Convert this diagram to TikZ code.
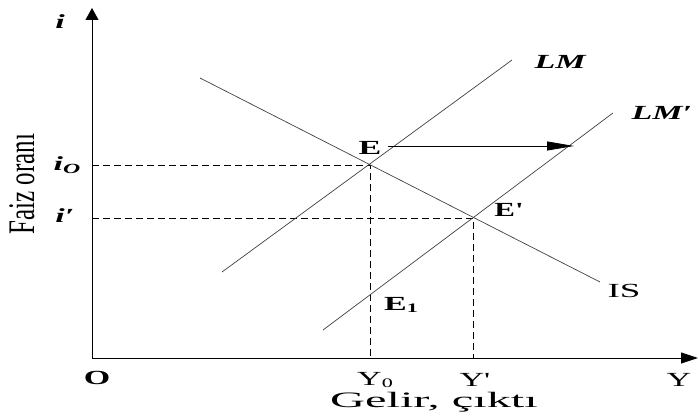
\documentclass[tikz,border=0pt]{standalone}
\usepackage{fontspec}
\setmainfont{Liberation Serif}[Ligatures=TeXOff]
\usetikzlibrary{arrows.meta}
\newcommand{\hstretch}[1]{\scalebox{1.7}[1]{#1}}
\begin{document}
\begin{tikzpicture}[x=1pt,y=-1pt,
  lbl/.style={font=\fontsize{20}{22}\selectfont, inner sep=0pt},
  blbl/.style={font=\fontsize{20}{22}\selectfont\bfseries, inner sep=0pt},
  ilbl/.style={font=\fontsize{20}{22}\selectfont\bfseries\itshape, inner sep=0pt},
  curve/.style={line width=0.7pt, draw=black!75},
  axis/.style={line width=0.9pt},
  guide/.style={line width=0.8pt, dash pattern=on 7pt off 4pt}]
\useasboundingbox (0,0) rectangle (699,419);
% points
\coordinate (O) at (92,358);
\coordinate (ytop) at (92,8);
\coordinate (xend) at (698,358);
\coordinate (E) at (370,165);
\coordinate (Ep) at (473,218);
\coordinate (i0) at (92,165);
\coordinate (ip) at (92,218);
\coordinate (Y0) at (370,358);
\coordinate (Yp) at (473,358);
\coordinate (LMa) at (222,272);
\coordinate (LMb) at (512,60);
\coordinate (LMpa) at (323,330);
\coordinate (LMpb) at (613,113);
\coordinate (ISa) at (200,78);
\coordinate (ISb) at (600,282);
\coordinate (ar1) at (388,146);
\coordinate (ar2) at (574,146);
% axes
\draw[axis,-{Triangle[length=12pt,width=13pt]}] (O) -- (ytop);
\draw[axis,-{Triangle[length=17pt,width=11pt]}] (O) -- (xend);
% guides
\draw[guide] (i0) -- (E) -- (Y0);
\draw[guide] (ip) -- (Ep) -- (Yp);
% curves
\draw[curve] (LMa) -- (LMb);
\draw[curve] (LMpa) -- (LMpb);
\draw[curve] (ISa) -- (ISb);
\draw[line width=0.8pt,-{Triangle[length=27pt,width=9pt]}] (ar1) -- (ar2);
% labels
\node[ilbl] (li) at (60,22) {\hstretch{i}};
\node[ilbl] (li0) at (67,165) {\hstretch{i\raisebox{-0.35ex}{\fontsize{14}{15}\selectfont O}}};
\node[ilbl] (lip) at (65,216) {\hstretch{i′}};
\node[blbl] (lO) at (97,378) {\hstretch{O}};
\node[lbl] (lY0) at (375,380) {\hstretch{Y\raisebox{-0.3ex}{\fontsize{13}{14}\selectfont 0}}};
\node[lbl] (lYp) at (475,380) {\hstretch{Y'}};
\node[lbl] (lY) at (679,380) {\hstretch{Y}};
\node[font=\fontsize{22}{24}\selectfont, inner sep=0pt] (lx) at (434,402) {\scalebox{2.2}[1]{Gelir, çıktı}};
\node[blbl] (lE) at (370,148) {\hstretch{E}};
\node[blbl] (lEp) at (509,210) {\scalebox{1.55}[1]{E'}};
\node[blbl] (lE1) at (401,305) {\hstretch{E\raisebox{-0.3ex}{\fontsize{13}{14}\selectfont 1}}};
\node[lbl] (lIS) at (624,291) {\scalebox{1.85}[1]{IS}};
\node[ilbl] (lLM) at (560,62) {\hstretch{LM}};
\node[ilbl] (lLMp) at (662,113) {\hstretch{LM′}};
\node[rotate=90, inner sep=0pt, font=\fontsize{25}{27}\selectfont] (ly) at (22,184) {\scalebox{1}[1.5]{Faiz oranı}};
\end{tikzpicture}
\end{document}
